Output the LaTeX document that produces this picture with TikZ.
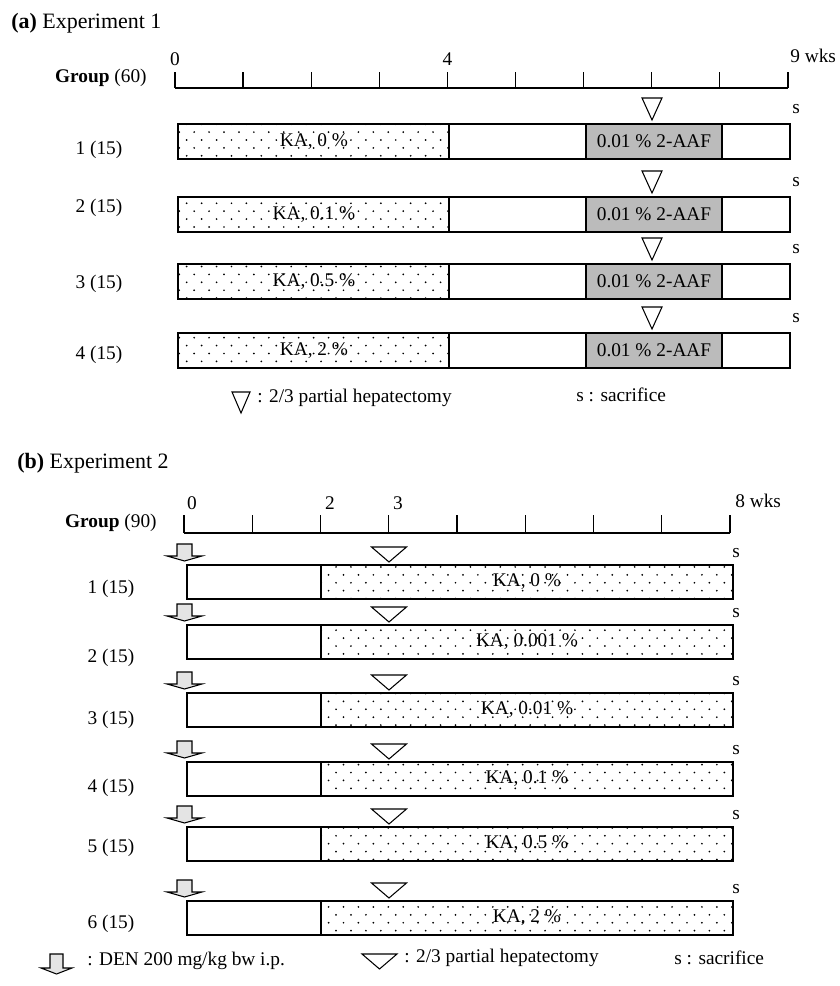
\documentclass[tikz,border=0pt]{standalone}
\usepackage{fontspec}
\setmainfont{Liberation Serif}
\usetikzlibrary{patterns}
\definecolor{aafgray}{HTML}{BBBBBB}
\definecolor{dengray}{HTML}{E4E4E4}
% sparse staggered dots for the KA diet
\pgfdeclarepatternformonly{kadots}{\pgfqpoint{-1pt}{-1pt}}{\pgfqpoint{9.5pt}{10pt}}{\pgfqpoint{8.5pt}{9pt}}{%
  \pgfpathcircle{\pgfqpoint{0pt}{0pt}}{0.55pt}
  \pgfpathcircle{\pgfqpoint{4.25pt}{4.5pt}}{0.55pt}
  \pgfusepath{fill}}

\begin{document}
\begin{tikzpicture}[x=0.02cm, y=-0.02cm,
  every node/.style={font=\fontsize{11}{13}\selectfont, inner sep=0pt},
  title/.style={anchor=west, font=\fontsize{12.5}{15}\selectfont},
  grplab/.style={anchor=east},
  legtext/.style={anchor=west},
  axisline/.style={line width=0.7pt},
  barline/.style={line width=0.75pt},
  kazone/.style={pattern=kadots},
  aafzone/.style={fill=aafgray},
  phx/.style={line width=0.6pt, fill=white},
  den/.style={line width=0.6pt, fill=dengray}]
  \useasboundingbox (0,0) rectangle (839,986);

  % (a) Experiment 1
  \node[title] (tita) at (11,23) {\textbf{(a)} Experiment 1};
  \node[grplab] (grpa) at (147,78) {\textbf{Group} (60)};

  % Weeks
  \draw[axisline] (175,88) -- (788,88);
  \foreach \k in {0,...,9}
    \draw[axisline] (175+\k*68.1,88) -- (175+\k*68.1,72);
  \node (wa0) at (175,59) {0};
  \node (wa4) at (447.4,59) {4};
  \node[anchor=west] (wa9) at (790,56) {9 wks};

  % Groups
  \foreach \i/\t/\ly/\pct in {1/124/150/0, 2/197/208/0.1, 3/264/284/0.5, 4/333/355/2} {
    \node (ga\i) at (99,\ly) {\i\ (15)};
    \fill[kazone] (178,\t) rectangle (449,\t+35);
    \filldraw[aafzone, barline] (586,\t) rectangle (722,\t+35);
    \draw[barline] (178,\t) rectangle (790,\t+35) (449,\t) -- (449,\t+35);
    \node (kaa\i) at (314,\t+17.5) {KA, \pct\ \%};
    \node (aafa\i) at (654,\t+17.5) {0.01 \% 2-AAF};
    \draw[phx] (642,\t-26) -- (662,\t-26) -- (652,\t-4) -- cycle;
    \node (sa\i) at (796,\t-15) {s};
  }

  % Legend
  \draw[phx] (232,392) -- (250,392) -- (241,413) -- cycle;
  \node[legtext] (lpha) at (257,398) {: 2/3 partial hepatectomy};
  \node[legtext] (lsa) at (576,395) {s : sacrifice};

  % (b) Experiment 2
  \node[title] (titb) at (17,463) {\textbf{(b)} Experiment 2};
  \node[grplab] (grpb) at (157,523) {\textbf{Group} (90)};

  % Weeks
  \draw[axisline] (184,533) -- (730,533);
  \foreach \k in {0,...,8}
    \draw[axisline] (184+\k*68.25,533) -- (184+\k*68.25,515);
  \node (wb0) at (192,503) {0};
  \node (wb2) at (330,503) {2};
  \node (wb3) at (398,503) {3};
  \node[anchor=west] (wb8) at (735,501) {8 wks};

  % Groups
  \foreach \i/\t/\ly/\pct in {1/565/589/0, 2/625/658/0.001, 3/693/720/0.01, 4/762/788/0.1, 5/827/848/0.5, 6/901/924/2} {
    \node (gb\i) at (111,\ly) {\i\ (15)};
    \fill[kazone] (321,\t) rectangle (733,\t+34);
    \draw[barline] (187,\t) rectangle (733,\t+34) (321,\t) -- (321,\t+34);
    \node (kab\i) at (527,\t+17) {KA, \pct\ \%};
    \draw[phx] (371.5,\t-18) -- (406.5,\t-18) -- (389,\t-3) -- cycle;
    \draw[den] (177,\t-21) -- (192,\t-21) -- (192,\t-9) -- (202,\t-9) -- (184.5,\t-4)
      -- (167,\t-9) -- (177,\t-9) -- cycle;
    \node (sb\i) at (736,\t-12) {s};
  }

  % Legend
  \draw[den] (50,954) -- (63,954) -- (63,968) -- (72,968) -- (56.5,974) -- (41,968)
    -- (50,968) -- cycle;
  \node[legtext] (lden) at (87,961) {: DEN 200 mg/kg bw i.p.};
  \draw[phx] (362,954) -- (397,954) -- (379.5,969) -- cycle;
  \node[legtext] (lphb) at (404,958) {: 2/3 partial hepatectomy};
  \node[legtext] (lsb) at (674,958) {s : sacrifice};
\end{tikzpicture}
\end{document}
